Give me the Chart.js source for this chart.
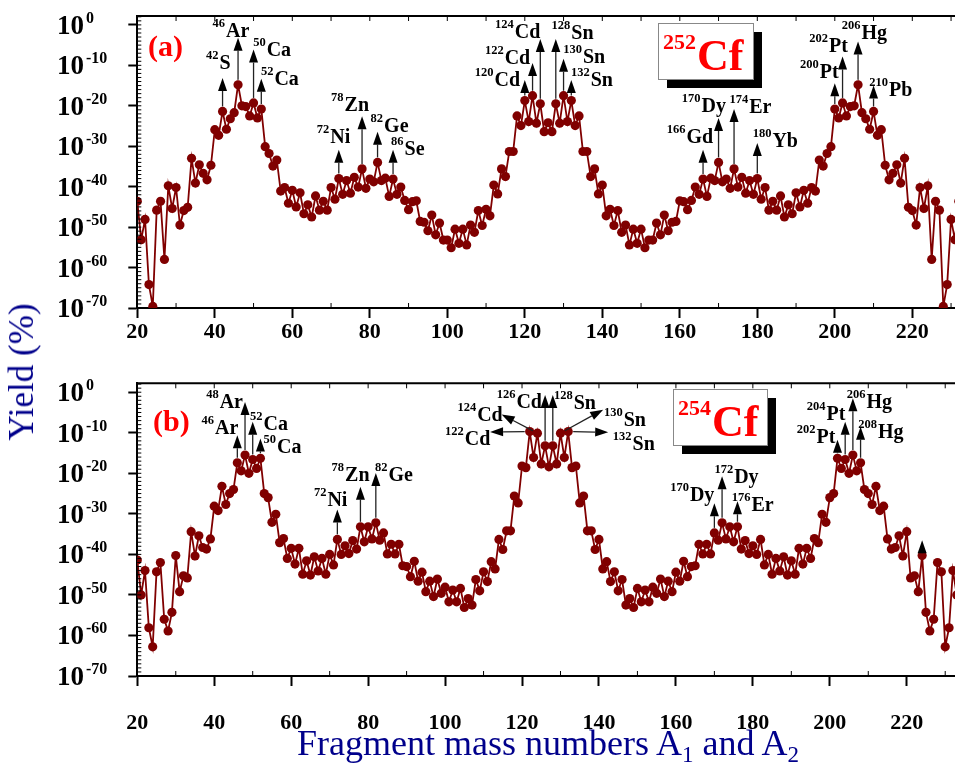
<!DOCTYPE html>
<html>
<head>
<meta charset="utf-8">
<script src="https://cdn.jsdelivr.net/npm/chart.js@4.4.0/dist/chart.umd.min.js"></script>
<style>
  html, body { margin: 0; padding: 0; background: #fff; overflow: hidden; }
  #wrap { position: relative; width: 955px; height: 769px; overflow: hidden; }
  canvas { position: absolute; left: 0; }
  #cvA { top: 0; }
  #cvB { top: 360px; }
  .axis-title { position: absolute; color: #00008b; font-family: "Liberation Serif", "Times New Roman", serif; white-space: nowrap; }
  #ytitle { left: 22px; top: 372px; font-size: 35px; transform: translate(-50%, -50%) rotate(-90deg); }
  #xtitle { left: 548px; top: 722px; font-size: 36px; transform: translateX(-50%); }
  #xtitle sub { font-size: 23px; vertical-align: -7px; }
</style>
</head>
<body>
<div id="wrap">
  <canvas id="cvA" width="970" height="360"></canvas>
  <canvas id="cvB" width="970" height="390"></canvas>
  <div class="axis-title" id="ytitle">Yield (%)</div>
  <div class="axis-title" id="xtitle">Fragment mass numbers A<sub>1</sub> and A<sub>2</sub></div>
</div>
<script>
// log10 of the yield (%) for each fragment mass, starting at A = 20
const firstMass = 20;
const yieldExpCf252 = [
  -43.6, -53.1, -48.1, -64.2, -69.6, -45.8, -43.6, -58.0, -39.8, -45.4,
  -40.2, -49.5, -45.9, -45.1, -33.0, -39.1, -34.6, -36.7, -38.3, -34.7,
  -25.9, -27.3, -21.4, -25.8, -23.2, -21.7, -14.8, -20.0, -20.2, -22.5,
  -19.3, -23.0, -20.8, -30.1, -31.8, -34.9, -33.4, -41.1, -40.2, -44.1,
  -40.9, -45.0, -41.5, -46.7, -44.5, -47.5, -42.3, -45.8, -43.6, -45.8,
  -40.2, -43.1, -38.0, -41.9, -38.5, -41.6, -37.7, -40.1, -35.6, -40.4,
  -38.1, -38.8, -34.0, -38.5, -37.9, -42.4, -38.1, -41.9, -40.1, -43.4,
  -45.7, -43.7, -43.5, -48.6, -48.8, -50.9, -47.0, -51.9, -49.0, -53.2,
  -53.2, -55.1, -50.5, -54.0, -50.5, -54.4, -49.5, -51.3, -45.9, -49.6,
  -45.6, -47.2, -39.6, -41.8, -35.6, -37.5, -31.3, -31.3, -22.5, -24.9,
  -18.7, -23.9, -17.5, -24.3, -19.5, -26.4, -24.2, -26.4, -19.5, -24.3,
  -17.5, -23.9, -18.7, -24.9, -22.5, -31.3, -31.3, -37.5, -35.6, -41.8,
  -39.6, -47.2, -45.6, -49.6, -45.9, -51.3, -49.5, -54.4, -50.5, -54.0,
  -50.5, -55.1, -53.2, -53.2, -49.0, -51.9, -47.0, -50.9, -48.8, -48.6,
  -43.5, -43.7, -45.7, -43.4, -40.1, -41.9, -38.1, -42.4, -37.9, -38.5,
  -34.0, -38.8, -38.1, -40.4, -35.6, -40.1, -37.7, -41.6, -38.5, -41.9,
  -38.0, -43.1, -40.2, -45.8, -43.6, -45.8, -42.3, -47.5, -44.5, -46.7,
  -41.5, -45.0, -40.9, -44.1, -40.2, -41.1, -33.4, -34.9, -31.8, -30.1,
  -20.8, -23.0, -19.3, -22.5, -20.2, -20.0, -14.8, -21.7, -23.2, -25.8,
  -21.4, -27.3, -25.9, -34.7, -38.3, -36.7, -34.6, -39.1, -33.0, -45.1,
  -45.9, -49.5, -40.2, -45.4, -39.8, -58.0, -43.6, -45.8, -69.6, -64.2,
  -48.1, -53.1, -43.6
];
const yieldExpCf254 = [
  -41.4, -50.0, -44.0, -58.1, -62.8, -44.3, -42.0, -56.0, -58.9, -54.3,
  -40.3, -49.2, -45.3, -45.8, -34.4, -40.4, -35.4, -38.3, -38.7, -36.2,
  -28.1, -29.2, -23.2, -27.7, -25.0, -24.0, -17.4, -19.4, -15.5, -20.0,
  -16.6, -18.8, -16.3, -25.0, -26.0, -32.1, -30.1, -37.1, -36.1, -41.0,
  -38.5, -42.4, -38.5, -44.9, -41.6, -45.1, -40.6, -44.1, -41.0, -44.9,
  -40.0, -42.6, -36.3, -40.0, -37.9, -39.8, -36.6, -38.7, -33.2, -36.9,
  -33.2, -36.2, -32.2, -36.5, -34.7, -39.9, -37.5, -39.9, -37.5, -42.8,
  -43.0, -45.5, -41.7, -46.6, -44.4, -49.2, -46.6, -50.4, -46.1, -49.6,
  -48.1, -51.7, -48.8, -51.7, -48.4, -53.1, -50.9, -52.5, -46.2, -49.0,
  -44.3, -46.7, -41.8, -43.6, -36.3, -38.8, -34.2, -34.2, -25.6, -27.3,
  -18.2, -18.6, -9.7, -16.1, -10.1, -17.7, -13.2, -18.4, -13.2, -17.7,
  -10.1, -16.1, -9.7, -18.6, -18.2, -27.3, -25.6, -34.2, -34.2, -38.8,
  -36.3, -43.6, -41.8, -46.7, -44.3, -49.0, -46.2, -52.5, -50.9, -53.1,
  -48.4, -51.7, -48.8, -51.7, -48.1, -49.6, -46.1, -50.4, -46.6, -49.2,
  -44.4, -46.6, -41.7, -45.5, -43.0, -42.8, -37.5, -39.9, -37.5, -39.9,
  -34.7, -36.5, -32.2, -36.2, -33.2, -36.9, -33.2, -38.7, -36.6, -39.8,
  -37.9, -40.0, -36.3, -42.6, -40.0, -44.9, -41.0, -44.1, -40.6, -45.1,
  -41.6, -44.9, -38.5, -42.4, -38.5, -41.0, -36.1, -37.1, -30.1, -32.1,
  -26.0, -25.0, -16.3, -18.8, -16.6, -20.0, -15.5, -19.4, -17.4, -24.0,
  -25.0, -27.7, -23.2, -29.2, -28.1, -36.2, -38.7, -38.3, -35.4, -40.4,
  -34.4, -45.8, -45.3, -49.2, -40.3, -54.3, -58.9, -56.0, -42.0, -44.3,
  -62.8, -58.1, -44.0, -50.0, -41.4
];

const xTickValues = [20, 40, 60, 80, 100, 120, 140, 160, 180, 200, 220];
const yTickExps = [0, -10, -20, -30, -40, -50, -60, -70];

// fragment markers: arrow from the point at mass `at` to (tipX, tip), label placed at (lx, ly)
const markersCf252 = [
  { mass: '42', sym: 'S', at: 42, tip: -13.1, lx: 37.7, ly: -10.8 },
  { mass: '46', sym: 'Ar', at: 46, tip: -3.2, lx: 39.4, ly: -2.9 },
  { mass: '50', sym: 'Ca', at: 50, tip: -6.1, lx: 49.9, ly: -7.6 },
  { mass: '52', sym: 'Ca', at: 52, tip: -13.3, lx: 51.9, ly: -14.8 },
  { mass: '72', sym: 'Ni', at: 72, tip: -30.9, lx: 66.3, ly: -29.2 },
  { mass: '78', sym: 'Zn', at: 78, tip: -22.6, lx: 70.0, ly: -21.2 },
  { mass: '82', sym: 'Ge', at: 82, tip: -26.4, lx: 80.2, ly: -26.6 },
  { mass: '86', sym: 'Se', at: 86, tip: -30.9, lx: 85.5, ly: -32.1 },
  { mass: '120', sym: 'Cd', at: 120, tip: -13.6, lx: 107.1, ly: -15.2 },
  { mass: '122', sym: 'Cd', at: 122, tip: -9.4, lx: 109.7, ly: -9.6 },
  { mass: '124', sym: 'Cd', at: 124, tip: -3.5, lx: 112.3, ly: -3.2 },
  { mass: '128', sym: 'Sn', at: 128, tip: -3.5, lx: 126.9, ly: -3.4 },
  { mass: '130', sym: 'Sn', at: 130, tip: -8.4, lx: 129.9, ly: -9.4 },
  { mass: '132', sym: 'Sn', at: 132, tip: -13.6, lx: 131.9, ly: -15.0 },
  { mass: '166', sym: 'Gd', at: 166, tip: -30.9, lx: 156.6, ly: -29.1 },
  { mass: '170', sym: 'Dy', at: 170, tip: -23.0, lx: 160.5, ly: -21.6 },
  { mass: '174', sym: 'Er', at: 174, tip: -20.8, lx: 172.8, ly: -21.7 },
  { mass: '180', sym: 'Yb', at: 180, tip: -29.2, lx: 178.8, ly: -30.3 },
  { mass: '200', sym: 'Pt', at: 200, tip: -14.4, lx: 191.0, ly: -13.1 },
  { mass: '202', sym: 'Pt', at: 202, tip: -7.8, lx: 193.4, ly: -6.6 },
  { mass: '206', sym: 'Hg', at: 206, tip: -4.1, lx: 201.8, ly: -3.5 },
  { mass: '210', sym: 'Pb', at: 210, tip: -15.0, lx: 208.9, ly: -17.5 }
];
const markersCf254 = [
  { mass: '46', sym: 'Ar', at: 46, tip: -10.6, lx: 36.7, ly: -10.3 },
  { mass: '48', sym: 'Ar', at: 48, tip: -2.4, lx: 37.9, ly: -4.0 },
  { mass: '52', sym: 'Ca', at: 50, tip: -7.3, lx: 49.3, ly: -9.2 },
  { mass: '50', sym: 'Ca', at: 52, tip: -11.4, lx: 52.8, ly: -15.0 },
  { mass: '72', sym: 'Ni', at: 72, tip: -28.9, lx: 65.9, ly: -28.1 },
  { mass: '78', sym: 'Zn', at: 78, tip: -23.3, lx: 70.5, ly: -21.9 },
  { mass: '82', sym: 'Ge', at: 82, tip: -19.9, lx: 81.8, ly: -21.9 },
  { mass: '122', sym: 'Cd', at: 122, tipX: 111.7, tip: -9.8, lx: 100.0, ly: -13.1 },
  { mass: '124', sym: 'Cd', at: 124, tipX: 114.7, tip: -5.5, lx: 103.2, ly: -7.1 },
  { mass: '126', sym: 'Cd', at: 126, tip: -0.7, lx: 113.4, ly: -4.0 },
  { mass: '128', sym: 'Sn', at: 128, tip: -0.7, lx: 128.3, ly: -4.2 },
  { mass: '130', sym: 'Sn', at: 130, tipX: 141.1, tip: -4.3, lx: 141.3, ly: -8.4 },
  { mass: '132', sym: 'Sn', at: 132, tipX: 142.4, tip: -9.9, lx: 143.6, ly: -14.3 },
  { mass: '170', sym: 'Dy', at: 170, tip: -27.4, lx: 158.5, ly: -26.8 },
  { mass: '172', sym: 'Dy', at: 172, tip: -20.7, lx: 170.0, ly: -22.5 },
  { mass: '176', sym: 'Er', at: 176, tip: -26.9, lx: 174.5, ly: -29.3 },
  { mass: '202', sym: 'Pt', at: 202, tip: -11.7, lx: 191.4, ly: -12.5 },
  { mass: '204', sym: 'Pt', at: 204, tip: -7.3, lx: 194.0, ly: -6.9 },
  { mass: '206', sym: 'Hg', at: 206, tip: -1.5, lx: 204.4, ly: -4.0 },
  { mass: '208', sym: 'Hg', at: 208, tip: -8.5, lx: 207.4, ly: -11.4 },
  { at: 224, tip: -36.5 }
];

const SERIF = '"Liberation Serif", "Times New Roman", serif';
const lineColor = '#800000';

function toPoints(exps) {
  return exps.map((e, i) => ({ x: firstMass + i, y: Math.pow(10, e) }));
}

// superscripted text: small mass number raised, element symbol on the baseline
function supText(ctx, x, y, sup, main, supPx, mainPx, rise, color) {
  ctx.fillStyle = color;
  ctx.textAlign = 'left';
  ctx.textBaseline = 'alphabetic';
  ctx.font = 'bold ' + supPx + 'px ' + SERIF;
  ctx.fillText(sup, x, y - rise);
  const w = ctx.measureText(sup).width;
  ctx.font = 'bold ' + mainPx + 'px ' + SERIF;
  ctx.fillText(main, x + w + 1, y);
}

function drawArrow(ctx, x0, y0, x1, y1) {
  const dx = x1 - x0, dy = y1 - y0;
  const len = Math.hypot(dx, dy);
  const ux = dx / len, uy = dy / len;
  const head = 13, half = 4.5;
  const sx = x0 + ux * 5, sy = y0 + uy * 5;
  const bx = x1 - ux * head, by = y1 - uy * head;
  ctx.strokeStyle = '#222';
  ctx.lineWidth = 1.3;
  ctx.beginPath();
  ctx.moveTo(sx, sy);
  ctx.lineTo(bx, by);
  ctx.stroke();
  ctx.fillStyle = '#000';
  ctx.beginPath();
  ctx.moveTo(x1, y1);
  ctx.lineTo(bx - uy * half, by + ux * half);
  ctx.lineTo(bx + uy * half, by - ux * half);
  ctx.closePath();
  ctx.fill();
}

function powerLabel(ctx, x, y, exp) {
  ctx.fillStyle = '#000';
  ctx.textAlign = 'left';
  ctx.textBaseline = 'alphabetic';
  ctx.font = 'bold 27px ' + SERIF;
  ctx.fillText('10', x, y);
  const w = ctx.measureText('10').width;
  ctx.font = 'bold 16px ' + SERIF;
  ctx.fillText(exp, x + w + 2, y - 11);
}

const decor = {
  id: 'decor',
  afterDatasetsDraw(chart, args, o) {
    const { ctx, chartArea: ca } = chart;
    const xs = chart.scales.x, ys = chart.scales.y;
    ctx.save();

    // top and right border of the frame
    ctx.strokeStyle = '#000';
    ctx.lineWidth = 2;
    ctx.beginPath();
    ctx.moveTo(ca.left, ca.top);
    ctx.lineTo(ca.right, ca.top);
    ctx.lineTo(ca.right, ca.bottom);
    ctx.stroke();

    // one small inner tick per decade along the left border
    ctx.lineWidth = 1;
    for (let e = -70; e <= 2; e++) {
      const py = ys.getPixelForValue(Math.pow(10, e));
      ctx.beginPath();
      ctx.moveTo(ca.left, py);
      ctx.lineTo(ca.left + 4, py);
      ctx.stroke();
    }
    // inner ticks every 10 mass units along the top, odd tens along the bottom
    for (let m = 30; m < xs.max; m += 10) {
      const px = xs.getPixelForValue(m);
      ctx.beginPath();
      ctx.moveTo(px, ca.top); ctx.lineTo(px, ca.top + 5);
      if (m % 20 === 10) { ctx.moveTo(px, ca.bottom); ctx.lineTo(px, ca.bottom - 5); }
      ctx.stroke();
    }

    // y tick labels 10^n
    yTickExps.forEach(e => {
      const py = ys.getPixelForValue(Math.pow(10, e));
      powerLabel(ctx, 57, py + 9, String(e));
    });

    // x tick labels
    ctx.fillStyle = '#000';
    ctx.font = 'bold 22px ' + SERIF;
    ctx.textAlign = 'center';
    ctx.textBaseline = 'alphabetic';
    xTickValues.forEach(v => {
      ctx.fillText(String(v), xs.getPixelForValue(v), ca.bottom + o.xLabelDrop);
    });

    // fragment markers
    o.markers.forEach(m => {
      const px = xs.getPixelForValue(m.at);
      const py = ys.getPixelForValue(Math.pow(10, o.exps[m.at - firstMass]));
      const tx = xs.getPixelForValue(m.tipX !== undefined ? m.tipX : m.at);
      const ty = ys.getPixelForValue(Math.pow(10, m.tip));
      drawArrow(ctx, px, py, tx, ty);
      if (m.sym) {
        supText(ctx, xs.getPixelForValue(m.lx), ys.getPixelForValue(Math.pow(10, m.ly)),
          m.mass, m.sym, 12.5, 20, 10, '#000');
      }
    });

    // panel tag
    ctx.fillStyle = '#ff0000';
    ctx.font = 'bold 30px ' + SERIF;
    ctx.textAlign = 'left';
    ctx.fillText(o.tag, o.tagX, o.tagY);

    // nucleus box with drop shadow
    const b = o.box;
    ctx.fillStyle = '#000';
    ctx.fillRect(b.x + 9, b.y + 9, b.w, b.h);
    ctx.fillStyle = '#fff';
    ctx.fillRect(b.x, b.y, b.w, b.h);
    ctx.strokeStyle = '#888';
    ctx.lineWidth = 1;
    ctx.strokeRect(b.x + 0.5, b.y + 0.5, b.w, b.h);
    supText(ctx, b.x + 5, b.y + 47, o.nucleus, 'Cf', 22, 44, 21, '#ff0000');

    ctx.restore();
  }
};

function makePanel(canvasId, exps, markers, xMax, pad, extra) {
  return new Chart(document.getElementById(canvasId), {
    type: 'line',
    data: {
      datasets: [{
        data: toPoints(exps),
        borderColor: lineColor,
        borderWidth: 1.8,
        pointRadius: 4.6,
        pointBackgroundColor: lineColor,
        pointBorderWidth: 0,
        tension: 0
      }]
    },
    options: {
      responsive: false,
      animation: false,
      events: [],
      layout: { padding: pad },
      plugins: {
        legend: { display: false },
        tooltip: { enabled: false },
        decor: Object.assign({ exps: exps, markers: markers }, extra)
      },
      scales: {
        x: {
          type: 'linear',
          min: 20,
          max: xMax,
          afterBuildTicks: s => { s.ticks = xTickValues.map(v => ({ value: v })); },
          ticks: { display: false },
          grid: { drawOnChartArea: false, drawTicks: true, tickLength: 10, tickWidth: 2, tickColor: '#000' },
          border: { display: true, color: '#000', width: 2 }
        },
        y: {
          type: 'logarithmic',
          min: 1e-70,
          max: Math.pow(10, 2.2),
          afterBuildTicks: s => { s.ticks = yTickExps.map(e => ({ value: Math.pow(10, e) })); },
          ticks: { display: false },
          grid: { drawOnChartArea: false, drawTicks: true, tickLength: 9, tickWidth: 2, tickColor: '#000' },
          border: { display: true, color: '#000', width: 2 }
        }
      }
    },
    plugins: [decor]
  });
}

makePanel('cvA', yieldExpCf252, markersCf252, 232,
  { left: 128.3, top: 16, right: 11.2, bottom: 42 },
  { xLabelDrop: 30, tag: '(a)', tagX: 148, tagY: 56, nucleus: '252',
    box: { x: 658, y: 23, w: 95, h: 56 } });

makePanel('cvB', yieldExpCf254, markersCf254, 234,
  { left: 128.3, top: 23.3, right: 9.4, bottom: 64 },
  { xLabelDrop: 53, tag: '(b)', tagX: 153, tagY: 71, nucleus: '254',
    box: { x: 673, y: 29, w: 94, h: 56 } });
</script>
</body>
</html>
